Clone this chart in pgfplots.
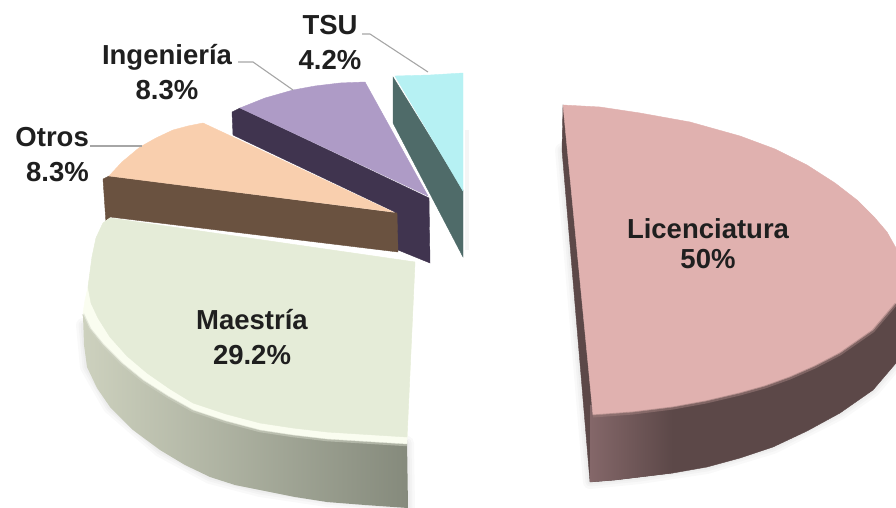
\documentclass[border=0pt]{standalone}
\usepackage{pgfplots}
\pgfplotsset{compat=1.18}
\usepackage{fontspec}
\setmainfont{Liberation Sans}
\definecolor{licTop}{HTML}{E0B1AF}
\definecolor{licSideA}{HTML}{846769}
\definecolor{licSideB}{HTML}{5C4848}
\definecolor{maeTop}{HTML}{E5ECD8}
\definecolor{maeRim}{HTML}{FAFDF0}
\definecolor{maeSideA}{HTML}{CDD1BE}
\definecolor{maeSideM}{HTML}{ABAF9F}
\definecolor{maeSideB}{HTML}{858A7C}
\definecolor{otrTop}{HTML}{F9CFAE}
\definecolor{otrSide}{HTML}{6A5240}
\definecolor{ingTop}{HTML}{AE9BC6}
\definecolor{ingSide}{HTML}{40344F}
\definecolor{tsuTop}{HTML}{B6F1F3}
\definecolor{tsuSide}{HTML}{4F6B69}
\tikzset{
  softshadow/.style={draw=black,draw opacity=0.025,line width=#1,fill=none,line join=round},
  lbl/.style={align=center,text=black!88,font=\fontsize{27.5}{35}\selectfont\bfseries,inner sep=0pt},
  leader/.style={draw=black!35,line width=1.1pt}
}
\begin{document}
\begin{tikzpicture}
\begin{axis}[
  scale only axis,width=896pt,height=508pt,
  xmin=0,xmax=896,ymin=0,ymax=508,y dir=reverse,
  hide axis,clip=true]
% TSU
\addplot[draw=black!20,line width=4pt,opacity=0.2] coordinates {(467,130)(467,250)};
\addplot[fill=tsuSide,draw=tsuSide,line width=.4pt] coordinates {(393,77)(393,123)(463,257)(463,190)} --cycle;
\addplot[fill=tsuTop,draw=tsuTop,line width=.4pt] coordinates {(395,76)(430,75)(463,73)(463,191)} --cycle;
% Ingenieria
\addplot[fill=ingSide,draw=ingSide,line width=.4pt] coordinates {(232,112)(233,135)(395,212)(398,250)(430,263)(429,198)(240,108)} --cycle;
\addplot[fill=ingTop,draw=ingTop,line width=.4pt] coordinates {(240,108)(265,98)(293,90)(315,86)(340,83)(365,82)(428,196)} --cycle;
% Otros
\addplot[fill=otrSide,draw=otrSide,line width=.4pt] coordinates {(103,179)(106,223)(110,217)(398,252)(397,213)(109,176)} --cycle;
\addplot[fill=otrTop,draw=otrTop,line width=.4pt] coordinates {(109,176)(122,162)(140,147)(156,138)(173,130)(188,126)(203,123)(393,212)} --cycle;
% Maestria
\addplot[softshadow=14pt] coordinates {(83,325)(87,367)(110,407)(160,450)(210,477)(260,490)(327,500)(408,507)(407,443)} --cycle;
\addplot[softshadow=9pt] coordinates {(83,325)(87,367)(110,407)(160,450)(210,477)(260,490)(327,500)(408,507)(407,443)} --cycle;
\addplot[softshadow=5pt] coordinates {(83,325)(87,367)(110,407)(160,450)(210,477)(260,490)(327,500)(408,507)(407,443)} --cycle;
\addplot[left color=maeSideA,middle color=maeSideM,right color=maeSideB,draw=none]
 coordinates {(83,315)(84,345)(87,367)(97,388)(110,407)(133,430)(160,450)(185,465)(210,477)(235,485)(260,490)(295,497)(327,502)(365,505)(408,508)(407,440)} --cycle;
\addplot[fill=maeRim,draw=maeRim,line width=.4pt] coordinates {(110,218)(103,223)(96,238)(92,257)(88,287)(85,300)(83,313)(90,328)(103,344)(122,363)(143,380)(168,396)(193,410)(226,421)(260,430)(293,435)(327,439)(407,444)(415,262)} --cycle;
\addplot[fill=maeTop,draw=maeTop,line width=.4pt] coordinates {(110,218)(103,223)(96,238)(92,257)(88,287)(91,303)(98,318)(110,337)(127,356)(147,373)(170,389)(193,403)(226,414)(260,423)(293,428)(327,432)(407,437)(415,262)} --cycle;
\addplot[draw=maeRim!50!maeSideM,line width=2.5pt,opacity=.5] coordinates {(83,314)(90,329)(103,345)(122,364)(143,381)(168,397)(193,411)(226,422)(260,431)(293,436)(327,440)(407,445)};
% Licenciatura
\addplot[softshadow=14pt] coordinates {(562,150)(590,482)(640,477)(707,467)(773,447)(840,413)(873,390)(896,363)} --cycle;
\addplot[softshadow=9pt] coordinates {(562,150)(590,482)(640,477)(707,467)(773,447)(840,413)(873,390)(896,363)} --cycle;
\addplot[softshadow=5pt] coordinates {(562,150)(590,482)(640,477)(707,467)(773,447)(840,413)(873,390)(896,363)} --cycle;
\addplot[fill=licSideB,draw=licSideB,line width=.4pt] coordinates {(563,105)(562,150)(590,482)(615,480)(640,477)(673,473)(707,467)(740,458)(773,447)(807,431)(840,413)(873,390)(896,363)(896,300)(700,300)} --cycle;
\addplot[left color=licSideA,right color=licSideB,draw=none] coordinates {(590,405)(590,482)(615,480)(640,477)(673,473)(673,400)} --cycle;
\addplot[fill=licTop,draw=licTop,line width=.4pt] coordinates {(563,105)(600,107)(640,113)(690,122)(740,136)(775,149)(807,165)(835,183)(857,200)(875,218)(887,232)(896,248)(896,303)(873,330)(840,353)(815,366)(790,377)(765,386)(740,393)(706,401)(673,407)(633,412)(593,415)} --cycle;
\addplot[draw=licTop!50!licSideB,line width=3pt,opacity=.55] coordinates {(896,304)(873,331)(840,354)(815,367)(790,378)(765,387)(740,394)(706,402)(673,408)(633,413)(593,416)};
% leader lines
\addplot[leader] coordinates {(362,34)(370,34)(428,72)};
\addplot[leader] coordinates {(238,62)(253,62)(293,90)};
\addplot[leader] coordinates {(90,146)(142,146)};
% labels
\node[lbl,font=\fontsize{27.5}{30}\selectfont\bfseries] at (axis cs:708,244) {Licenciatura\\50\%};
\node[lbl] at (axis cs:252,337) {Maestría\\29.2\%};
\node[lbl] at (axis cs:167,72) {Ingeniería\\8.3\%};
\node[lbl,align=right,anchor=east] at (axis cs:89,155) {Otros\\8.3\%};
\node[lbl] at (axis cs:330,43) {TSU\\4.2\%};
\end{axis}
\pgfresetboundingbox
\path[use as bounding box] (0,0) rectangle (896pt,508pt);
\end{tikzpicture}
\end{document}
